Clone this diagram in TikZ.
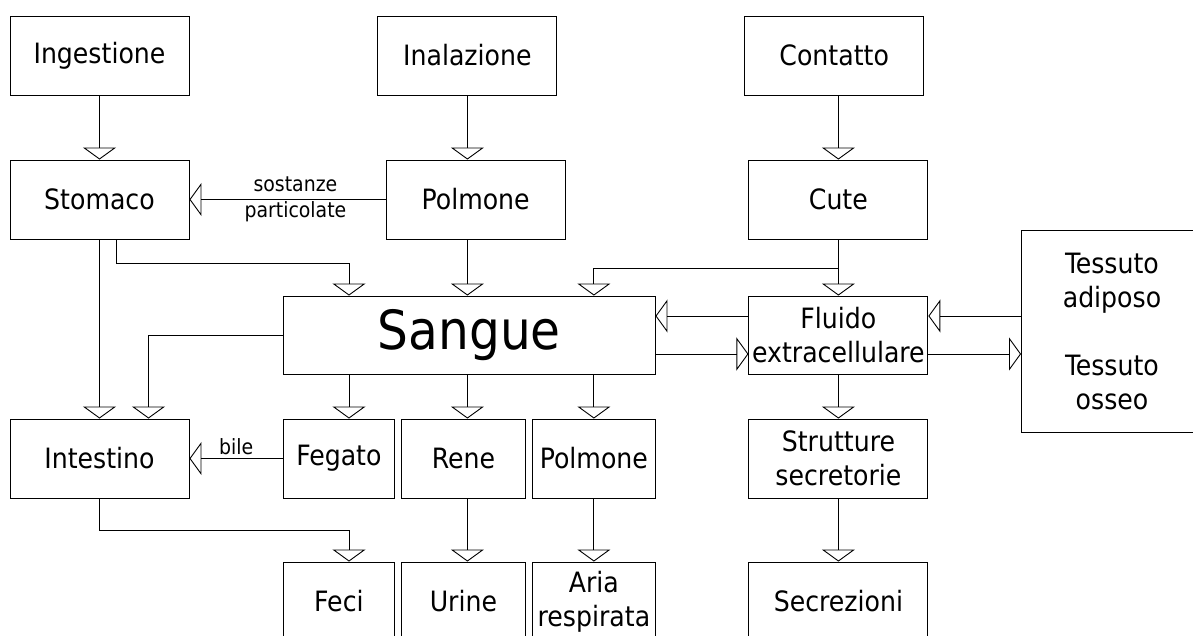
\documentclass[tikz,border=0pt]{standalone}
\usepackage{fontspec}
\setmainfont{DejaVu Sans Condensed}
\usetikzlibrary{arrows.meta}
\begin{document}
\begin{tikzpicture}[x=1pt,y=-1pt,
        box/.style={rectangle,draw,line width=0.9pt,inner sep=0pt,minimum width=179pt,minimum height=79pt,align=center,font=\fontsize{28}{34}\selectfont},
        arr/.style={line width=0.9pt,-{Triangle[open,length=12pt,width=33pt]}},
        lbl/.style={font=\fontsize{21}{26}\selectfont,align=center}]
        \useasboundingbox (0,0) rectangle (1193,635);
        \clip (0,0) rectangle (1193,635);
        \node at (99.5,55.5) [box] (ing) {Ingestione};
        \node at (467.4,55.5) [box] (inal) {Inalazione};
        \node at (834.2,55.5) [box] (cont) {Contatto};
        \node at (99.5,199.5) [box] (stom) {Stomaco};
        \node at (475.7,199.5) [box] (polm) {Polmone};
        \node at (838.4,199.5) [box] (cute) {Cute};
        \node at (1112,331) [box,minimum width=181pt,minimum height=202pt] (tess) {Tessuto\\adiposo\\[34pt]Tessuto\\osseo};
        \node at (469.3,335) [box,minimum width=371.4pt,minimum height=78pt,font=\fontsize{54}{60}\selectfont] (sang) {Sangue};
        \node at (838.4,335) [box,minimum height=78pt] (fluid) {Fluido\\extracellulare};
        \node at (99.5,458.5) [box] (intest) {Intestino};
        \node at (338.9,458.5) [box,minimum width=110.6pt] (feg) {Fegato};
        \node at (463.4,458.5) [box,minimum width=123.2pt] (rene) {Rene};
        \node at (593.9,458.5) [box,minimum width=122.3pt] (polmb) {Polmone};
        \node at (838.4,458.5) [box] (strut) {Strutture\\secretorie};
        \node at (338.9,601.5) [box,minimum width=110.6pt] (feci) {Feci};
        \node at (463.4,601.5) [box,minimum width=123.2pt] (urine) {Urine};
        \node at (593.9,601.5) [box,minimum width=122.3pt] (aria) {Aria\\respirata};
        \node at (838.4,601.5) [box] (secr) {Secrezioni};
        \coordinate (sb) at (349,263);
        \coordinate (cb) at (838.4,268);
        \coordinate (fb) at (349,530);
        \coordinate (fu) at ([yshift=19pt]fluid.west);
        \coordinate (fd) at ([yshift=-19pt]fluid.west);
        \coordinate (tu) at ([yshift=19pt]fluid.east);
        \coordinate (td) at ([yshift=-19pt]fluid.east);
        \draw[arr] (ing) -- (stom);
        \draw[arr] (inal) -- (inal |- polm.north);
        \draw[arr] (cont.south -| cute) -- (cute);
        \draw[arr] (polm) -- (stom) node[lbl,pos=0.46] {sostanze\\particolate};
        \draw[arr] ([xshift=16.5pt]stom.south) |- (sb) -- (sb |- sang.north);
        \draw[arr] (inal |- polm.south) -- (inal |- sang.north);
        \draw[arr] (cute) -- (fluid);
        \draw[arr] (cb) -| (polmb |- sang.north);
        \draw[arr] (stom) -- (intest);
        \draw[arr] (sang.west) -| ([xshift=49pt]intest.north);
        \draw[arr] (fu) -- (fu -| sang.east);
        \draw[arr] (fd -| sang.east) -- (fd);
        \draw[arr] (tu -| tess.west) -- (tu);
        \draw[arr] (td) -- (td -| tess.west);
        \draw[arr] (sb |- sang.south) -- (sb |- feg.north);
        \draw[arr] (inal |- sang.south) -- (inal |- rene.north);
        \draw[arr] (sang.south -| polmb) -- (polmb);
        \draw[arr] (feg) -- (intest) node[lbl,midway,above] {bile};
        \draw[arr] (intest) |- (fb) -- (fb |- feci.north);
        \draw[arr] (inal |- rene.south) -- (inal |- urine.north);
        \draw[arr] (polmb) -- (aria);
        \draw[arr] (fluid) -- (strut);
        \draw[arr] (strut) -- (secr);
\end{tikzpicture}
\end{document}
